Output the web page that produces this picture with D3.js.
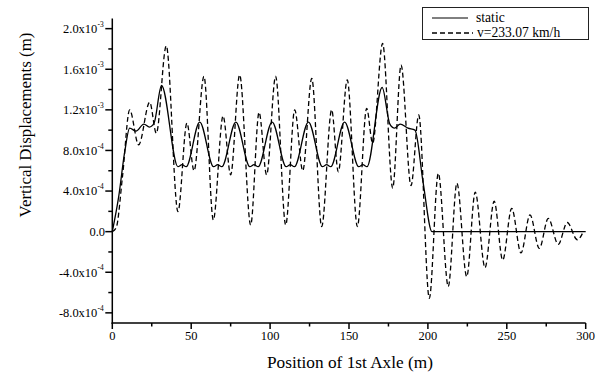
<!DOCTYPE html>
<html><head><meta charset="utf-8">
<script src="https://cdn.jsdelivr.net/npm/d3@7"></script>
<style>
body{margin:0;background:#fff}
svg{display:block}
</style>
</head><body><svg width="599" height="377" font-family="'Liberation Serif','Times New Roman','DejaVu Serif',serif"></svg>
<script>
// ---- data (x in m, y in m) ----
const staticX = [0,4,8,11,15,20,23.5,26.5,31.2,41.6,44.2,46.8,55.4,64.2,66.8,69.4,78.3,87.2,89.8,92.4,101.3,110.2,112.8,115.4,124.3,133.2,135.8,138.4,147.2,156.2,158.8,161.4,171.0,175.9,178.9,182.4,187.4,191.8,197,202.6,300];
const staticY = [0,3.4e-4,8.0e-4,1.02e-3,9.9e-4,1.06e-3,1.03e-3,1.07e-3,1.44e-3,6.4e-4,6.6e-4,6.4e-4,1.08e-3,6.4e-4,6.6e-4,6.4e-4,1.08e-3,6.4e-4,6.6e-4,6.4e-4,1.08e-3,6.4e-4,6.6e-4,6.4e-4,1.08e-3,6.4e-4,6.6e-4,6.4e-4,1.08e-3,6.4e-4,6.6e-4,6.4e-4,1.42e-3,1.06e-3,1.02e-3,1.06e-3,1.02e-3,1.0e-3,4.8e-4,0,0];
const dynX = [0,2.5,6.5,11.0,16.7,23.7,27.9,34.2,41.6,47.3,51.8,58.1,64.0,70.2,75.0,80.7,87.7,93.0,97.8,103.5,109.9,115.6,120.7,126.4,132.7,139.0,143.2,148.9,155.3,161.2,165.0,171.3,177.7,183.0,189.3,194.2,200.9,206.6,212.9,218.4,224.6,230.0,236.2,242.0,247.4,253.1,259.0,264.7,270.6,276.3,282.6,288.3,294.7,298.5];
const dynY = [0,4e-5,5.5e-4,1.20e-3,8.55e-4,1.275e-3,9.7e-4,1.83e-3,1.97e-4,1.07e-3,6.0e-4,1.53e-3,1.15e-4,1.14e-3,5.6e-4,1.545e-3,6.6e-5,1.175e-3,5.6e-4,1.53e-3,6.6e-5,1.2e-3,6.0e-4,1.51e-3,5.0e-5,1.2e-3,5.9e-4,1.495e-3,5.0e-5,1.215e-3,8.7e-4,1.855e-3,4.3e-4,1.64e-3,4.53e-4,1.15e-3,-6.56e-4,5.75e-4,-5.4e-4,4.77e-4,-4.43e-4,3.9e-4,-3.55e-4,3.0e-4,-2.8e-4,2.3e-4,-2.1e-4,1.65e-4,-1.65e-4,1.3e-4,-1.25e-4,9e-5,-8e-5,0];
const xTickValues = [0,50,100,150,200,250,300];
const xTickLabels = ["0","50","100","150","200","250","300"];
const yTickValues = [-8e-4,-4e-4,0,4e-4,8e-4,1.2e-3,1.6e-3,2.0e-3];
const yTickMantissa = ["-8.0x10","-4.0x10","0.0","4.0x10","8.0x10","1.2x10","1.6x10","2.0x10"];
const yTickExponent = ["-4","-4","","-4","-4","-3","-3","-3"];
const seriesNames = ["static","v=233.07 km/h"];
const xTitle = "Position of 1st Axle (m)";
const yTitle = "Vertical Displacements (m)";

// ---- layout ----
const svg = d3.select("svg");
const x = d3.scaleLinear().domain([0,300]).range([112.3,585.7]);
const y = d3.scaleLinear().domain([-9e-4,2.1e-3]).range([323,18.5]);

function fit(sel, target){
  const n = sel.node(); const fs = +sel.attr("font-size");
  const w = n.getComputedTextLength();
  if (w>0) sel.attr("font-size", fs*target/w);
  return sel;
}

const xMinor = d3.range(25,300,50);
const yMinor = d3.range(-6e-4,2.0e-3,4e-4);

const axes = svg.append("g").attr("stroke","#000").attr("stroke-width",1.5);
axes.append("line").attr("x1",x(0)).attr("x2",x(0)).attr("y1",y.range()[1]).attr("y2",y.range()[0]+0.75);
axes.append("line").attr("x1",x(0)-0.75).attr("x2",x(300)).attr("y1",y.range()[0]).attr("y2",y.range()[0]);
xTickValues.forEach(v=>axes.append("line").attr("x1",x(v)).attr("x2",x(v)).attr("y1",323).attr("y2",329));
xMinor.forEach(v=>axes.append("line").attr("x1",x(v)).attr("x2",x(v)).attr("y1",323).attr("y2",326.5));
yTickValues.forEach(v=>axes.append("line").attr("x1",x(0)-7).attr("x2",x(0)).attr("y1",y(v)).attr("y2",y(v)));
yMinor.forEach(v=>axes.append("line").attr("x1",x(0)-4).attr("x2",x(0)).attr("y1",y(v)).attr("y2",y(v)));

// x tick labels
const xl = svg.append("g").selectAll("text").data(xTickValues).join("text")
  .attr("x",d=>x(d)).attr("y",339.5).attr("text-anchor","middle").attr("font-size",12.5)
  .text((d,i)=>xTickLabels[i]);
const probe = d3.select(xl.nodes()[2]);
fit(probe,18.7);
const tickFs = +probe.attr("font-size");
xl.attr("font-size",tickFs);

// y tick labels
svg.append("g").selectAll("text").data(yTickValues).join("text")
  .attr("x",(d,i)=>yTickExponent[i]? 97.3 : 105).attr("y",d=>y(d)+4.3)
  .attr("text-anchor","end").attr("font-size",tickFs)
  .text((d,i)=>yTickMantissa[i]);
svg.append("g").selectAll("text").data(yTickValues.filter((d,i)=>yTickExponent[i])).join("text")
  .attr("x",97.6).attr("y",d=>y(d)-1.8).attr("font-size",tickFs*0.6)
  .text(d=>yTickExponent[yTickValues.indexOf(d)]);

// axis titles
fit(svg.append("text").attr("x",350).attr("y",368).attr("text-anchor","middle").attr("font-size",16)
  .text(xTitle),166);
fit(svg.append("text").attr("transform","translate(31,125) rotate(-90)").attr("text-anchor","middle").attr("font-size",16)
  .text(yTitle),185);

// lines
const line = d3.line().x(d=>x(d[0])).y(d=>y(d[1])).curve(d3.curveMonotoneX);
const sData = staticX.map((v,i)=>[v,staticY[i]]);
const dData = dynX.map((v,i)=>[v,dynY[i]]);
svg.append("path").datum(sData).attr("d",line).attr("fill","none").attr("stroke","#000").attr("stroke-width",1.3);
svg.append("path").datum(dData).attr("d",line).attr("fill","none").attr("stroke","#000").attr("stroke-width",1.3).attr("stroke-dasharray","5,3");

// legend
const lg = svg.append("g");
lg.append("rect").attr("x",422.5).attr("y",7.5).attr("width",166).attr("height",32).attr("fill","#fff").attr("stroke","#222").attr("stroke-width",1);
lg.append("line").attr("x1",432).attr("x2",468).attr("y1",18).attr("y2",18).attr("stroke","#000").attr("stroke-width",1);
lg.append("line").attr("x1",432).attr("x2",473).attr("y1",33).attr("y2",33).attr("stroke","#000").attr("stroke-width",1.3).attr("stroke-dasharray","5,3");
const lfs = 13.6;
lg.append("text").attr("x",477).attr("y",37.3).attr("font-size",lfs).text(seriesNames[1]);
lg.append("text").attr("x",476).attr("y",22.2).attr("font-size",lfs).text(seriesNames[0]);
</script>
</body></html>
